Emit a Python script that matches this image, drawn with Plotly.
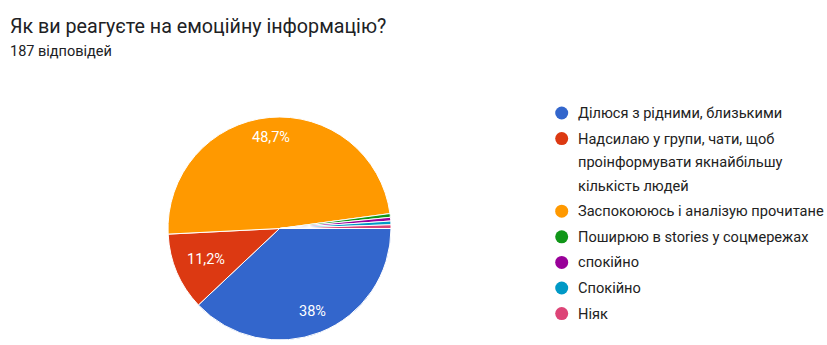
import math
import textwrap
import plotly.graph_objects as go

title = "Як ви реагуєте на емоційну інформацію?"
subtitle = "187 відповідей"
labels = [
    "Ділюся з рідними, близькими",
    "Надсилаю у групи, чати, щоб проінформувати якнайбільшу кількість людей",
    "Заспокоююсь і аналізую прочитане",
    "Поширюю в stories у соцмережах",
    "спокійно",
    "Спокійно",
    "Ніяк",
]
counts = [71, 21, 91, 1, 1, 1, 1]
colors = ["#3366cc", "#dc3912", "#ff9900", "#109618", "#990099", "#0099c6", "#dd4477"]

W, H = 827, 345
total = sum(counts)


def pct_text(c):
    p = 100.0 * c / total
    if p < 5:
        return ""
    s = f"{p:.1f}"
    if s.endswith(".0"):
        s = s[:-2]
    return s.replace(".", ",") + "%"


texts = [pct_text(c) for c in counts]

cx, cy, r = 279.5, 228.5, 111.5
label_size = 14.5

fig = go.Figure(
    go.Pie(
        labels=labels,
        values=counts,
        textinfo="none",
        sort=False,
        direction="clockwise",
        rotation=90,
        marker=dict(colors=colors, line=dict(color="white", width=1)),
        domain=dict(x=[(cx - r) / W, (cx + r) / W], y=[(H - cy - r) / H, (H - cy + r) / H]),
        showlegend=False,
        hoverinfo="label+percent",
    )
)

annotations = [
    dict(text=title, x=8 / W, y=1 - 26 / H, xref="paper", yref="paper", xanchor="left",
         yanchor="middle", showarrow=False, font=dict(family="Roboto", size=19.7, color="#202124")),
    dict(text=subtitle, x=8 / W, y=1 - 52 / H, xref="paper", yref="paper", xanchor="left",
         yanchor="middle", showarrow=False, font=dict(family="Roboto", size=14.5, color="#202124")),
]

# percentage labels placed along each slice's bisector (clockwise from 3 o'clock),
# pushed outward until the text box's far corner reaches a fixed radius
cum = 0
for c, t in zip(counts, texts):
    a0 = cum / total * 2 * math.pi
    cum += c
    a1 = cum / total * 2 * math.pi
    if not t:
        continue
    am = (a0 + a1) / 2
    ux, uy = math.cos(am), math.sin(am)  # screen coords, y down
    wbox = sum(0.27 if ch == "," else (0.85 if ch == "%" else 0.56) for ch in t) * label_size / 2
    hbox = 0.4 * label_size
    d = 40.0
    while True:
        fx = abs(ux * d) + wbox
        fy = abs(uy * d) + hbox
        if math.hypot(fx, fy) >= 100.5:
            break
        d += 0.25
    px, py = cx + ux * d, cy + uy * d
    annotations.append(dict(text=t, x=px / W, y=1 - py / H, xref="paper", yref="paper",
                            xanchor="center", yanchor="middle", showarrow=False,
                            font=dict(family="Roboto", size=label_size, color="white")))

shapes = []
dot_x = 561.7
text_x = 576
y = 113.0
line_h = 23.5
item_gap = 25.6
for lab, col in zip(labels, colors):
    lines = textwrap.wrap(lab, width=32)
    shapes.append(dict(type="circle", xref="paper", yref="paper", xsizemode="pixel", ysizemode="pixel",
                       xanchor=dot_x / W, yanchor=1 - y / H, x0=-6.5, x1=6.5, y0=-6.5, y1=6.5,
                       fillcolor=col, line=dict(width=0)))
    for i, ln in enumerate(lines):
        annotations.append(dict(text=ln, x=text_x / W, y=1 - (y + i * line_h) / H, xref="paper", yref="paper",
                                xanchor="left", yanchor="middle", showarrow=False,
                                font=dict(family="Roboto", size=14.6, color="#222222")))
    y += (len(lines) - 1) * line_h + item_gap

fig.update_layout(
    width=W, height=H,
    margin=dict(l=0, r=0, t=0, b=0),
    paper_bgcolor="white", plot_bgcolor="white",
    annotations=annotations, shapes=shapes,
    showlegend=False,
)

fig.write_html("out.html")
